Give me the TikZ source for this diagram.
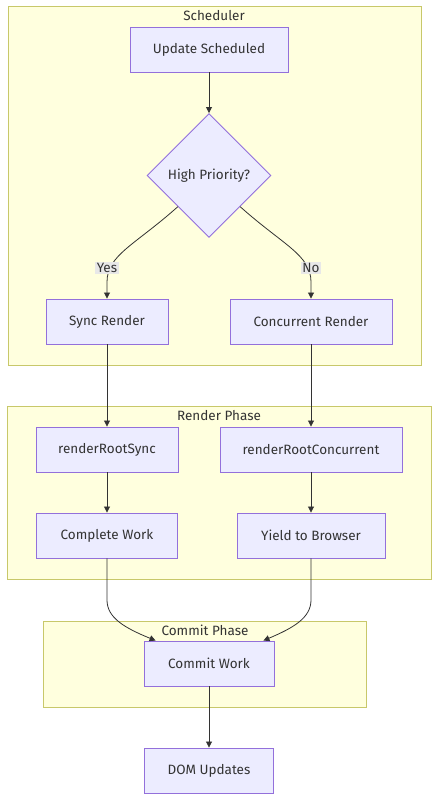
\documentclass[tikz,border=0pt]{standalone}
\usepackage{fontspec}
\setmainfont{Fira Sans}
\usetikzlibrary{shapes.geometric,arrows.meta}
\definecolor{nodefill}{HTML}{ECECFF}
\definecolor{nodeline}{HTML}{9370DB}
\definecolor{clfill}{HTML}{FFFFDE}
\definecolor{clline}{HTML}{C8C86A}
\definecolor{edgec}{HTML}{333333}
\definecolor{lblbg}{HTML}{E8E8E8}
\tikzset{
  box/.style={draw=nodeline, fill=nodefill, line width=0.9pt, text=edgec, font=\fontsize{13.5}{16}\selectfont, inner sep=0pt, minimum height=45pt},
  dia/.style={diamond, aspect=1, draw=nodeline, fill=nodefill, line width=0.9pt, text=edgec, font=\fontsize{13.5}{16}\selectfont, inner sep=0pt, minimum width=124pt, minimum height=124pt},
  cluster/.style={draw=clline, fill=clfill, line width=0.9pt},
  cltitle/.style={text=edgec, font=\fontsize{13.5}{16}\selectfont, inner sep=0pt},
  edge/.style={draw=edgec, line width=0.8pt, -{Triangle[length=6pt,width=6pt]}},
  elabel/.style={fill=lblbg, text=edgec, font=\fontsize{13.5}{16}\selectfont, inner sep=1.5pt}
}
\begin{document}
\begin{tikzpicture}[x=1pt,y=-1pt]
\useasboundingbox (0,0) rectangle (438,800);
\fill[white] (0,0) rectangle (438,800);
% clusters
\path[cluster] (8,6) rectangle (421,365);
\node[cltitle] (t1) at (214,16) {Scheduler};
\path[cluster] (7,406) rectangle (431,579);
\node[cltitle] (t2) at (219,416) {Render Phase};
\path[cluster] (43,621) rectangle (366,707);
\node[cltitle] (t3) at (205,630) {Commit Phase};
% nodes
\node[box, minimum width=158pt] (us) at (209,49.5) {Update Scheduled};
\node[dia] (hp) at (209,175.5) {High Priority?};
\node[box, minimum width=122pt] (sr) at (107,321.5) {Sync Render};
\node[box, minimum width=162pt] (cr) at (311,321.5) {Concurrent Render};
\node[box, minimum width=142pt] (rs) at (107,449.5) {renderRootSync};
\node[box, minimum width=182pt] (rc) at (311,449.5) {renderRootConcurrent};
\node[box, minimum width=141pt] (cw) at (107,535.5) {Complete Work};
\node[box, minimum width=148pt] (yb) at (311,535.5) {Yield to Browser};
\node[box, minimum width=130pt] (cm) at (209,663.5) {Commit Work};
\node[box, minimum width=129pt] (dom) at (209,770.5) {DOM Updates};
% edges
\draw[edge] (us) -- (hp);
\draw[edge] (hp.south west) .. controls (135,245) and (107,255) .. (107,282) -- (sr.north);
\draw[edge] (hp.south east) .. controls (283,245) and (311,255) .. (311,282) -- (cr.north);
\node[elabel] (ly) at (107,268) {Yes};
\node[elabel] (ln) at (311,268) {No};
\draw[edge] (sr) -- (rs);
\draw[edge] (cr) -- (rc);
\draw[edge] (rs) -- (cw);
\draw[edge] (rc) -- (yb);
\draw[edge] (cw.south) -- (107,600) .. controls (107,618) and (125,628) .. ([xshift=12pt]cm.north west);
\draw[edge] (yb.south) -- (311,600) .. controls (311,618) and (293,628) .. ([xshift=-11pt]cm.north east);
\draw[edge] (cm) -- (dom);
\end{tikzpicture}
\end{document}
